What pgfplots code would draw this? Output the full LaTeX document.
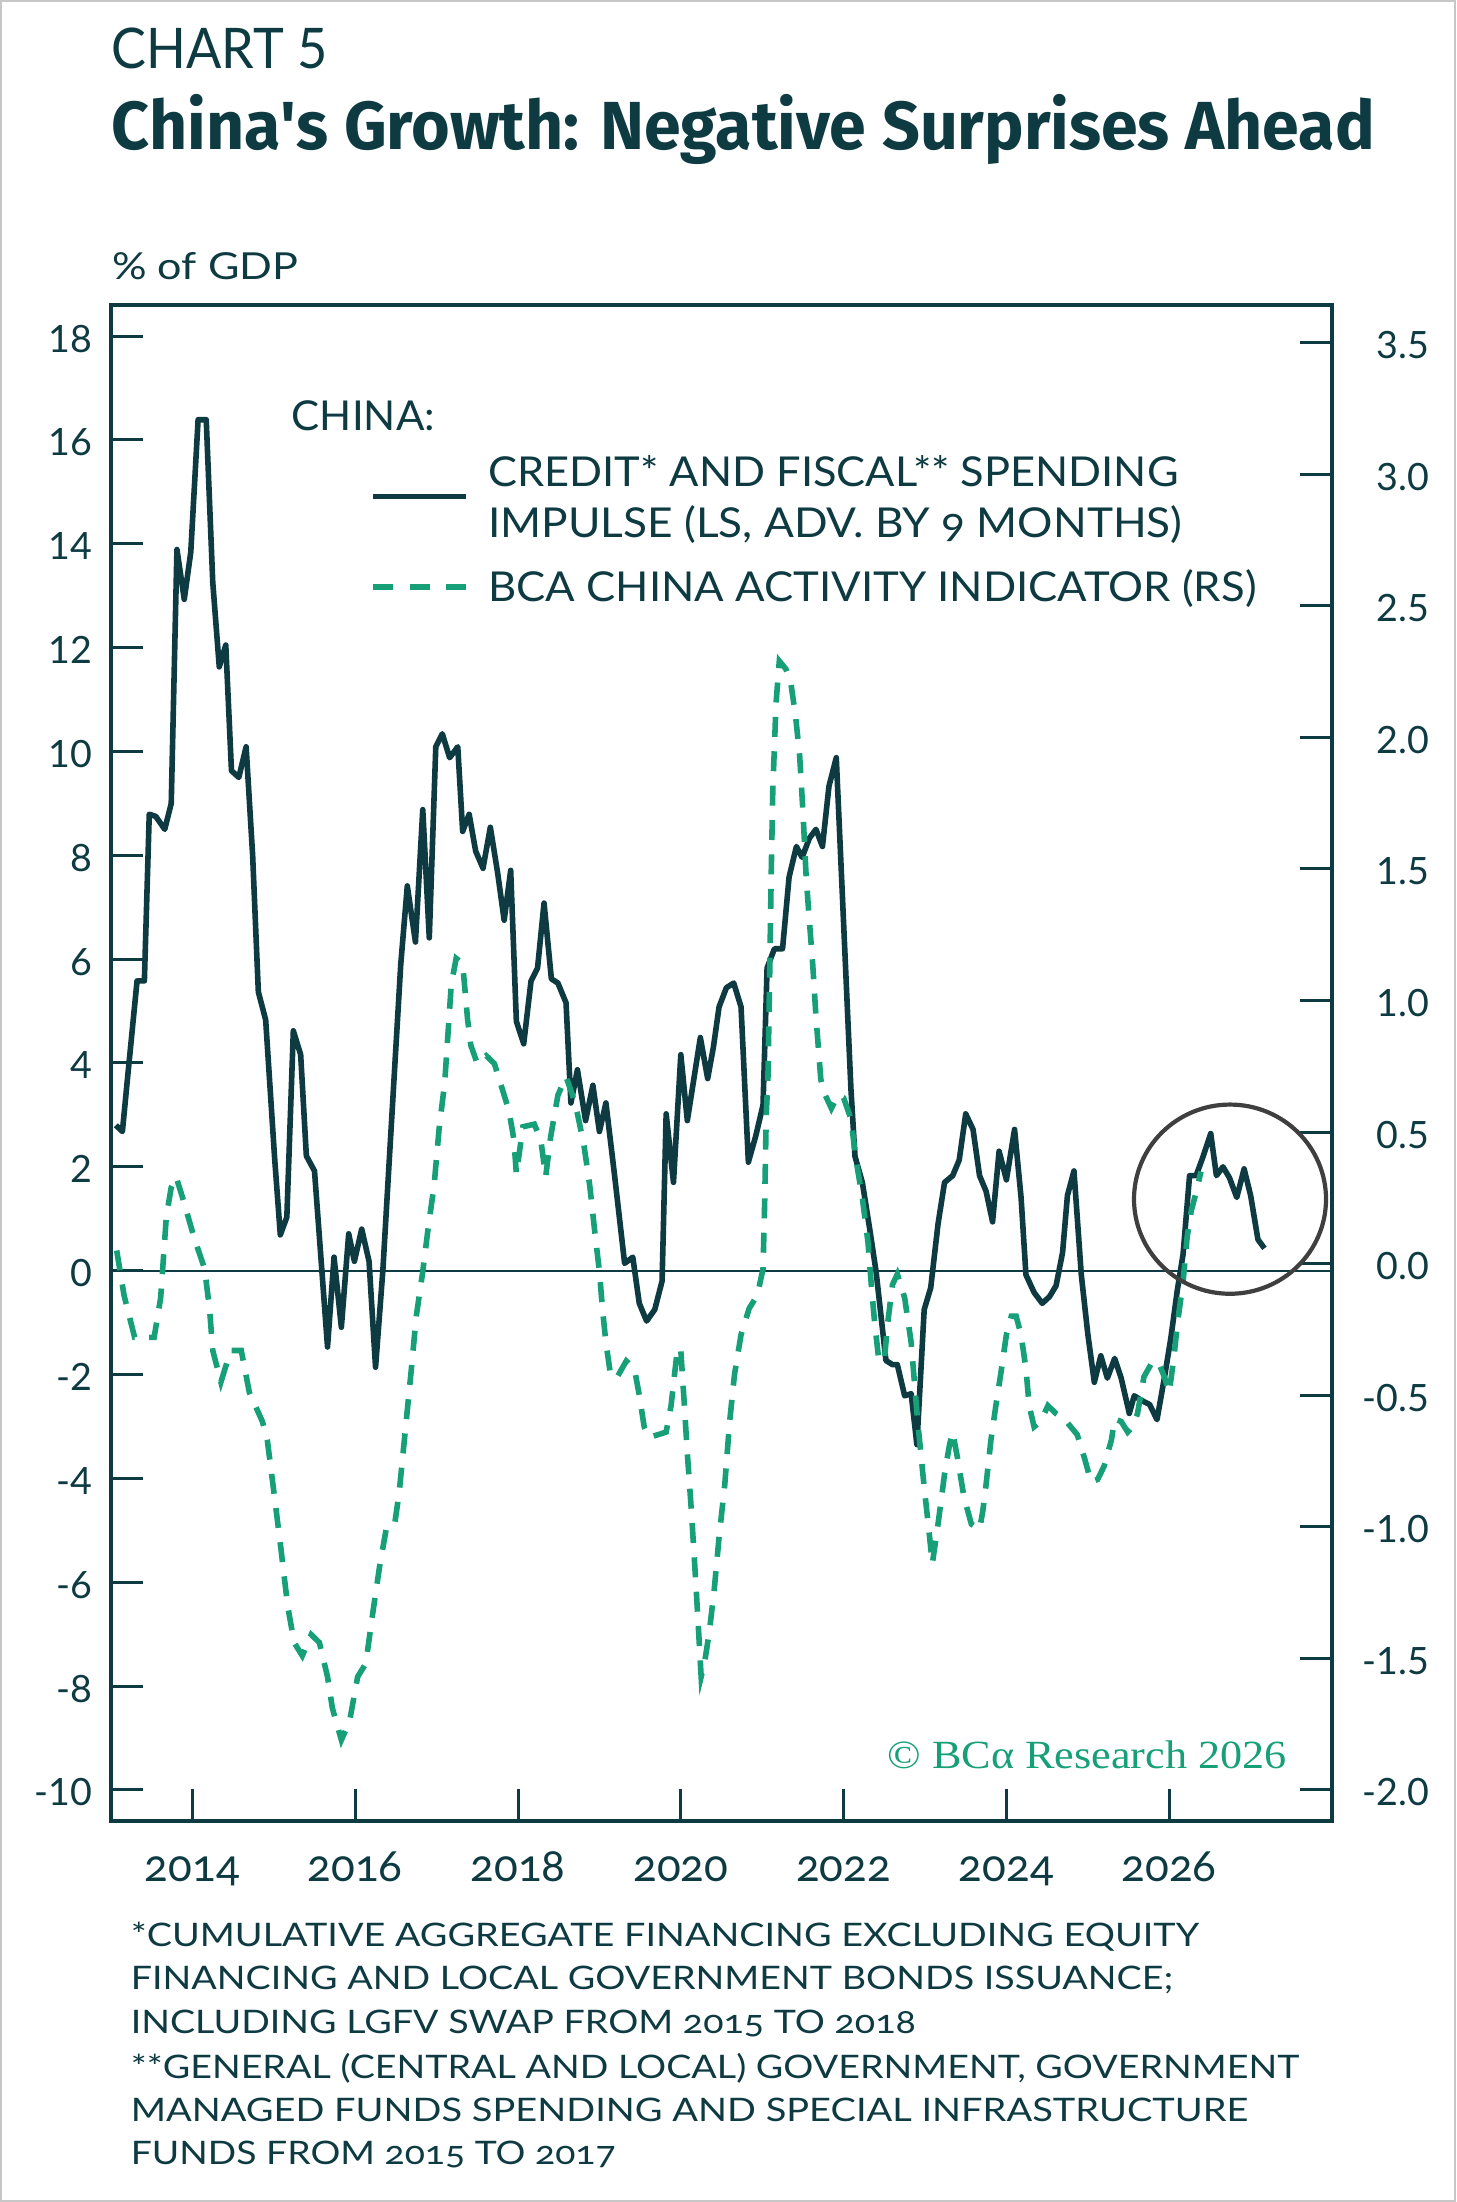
\documentclass[border=0pt]{standalone}
\usepackage{pgfplots}
\pgfplotsset{compat=1.18}
\usepackage{fontspec}
\usepackage{graphicx}
\setmainfont{Lato}
\newfontfamily\osf{Lato}[Numbers=OldStyle]
\newfontfamily\titlefont{Fira Sans}
\newfontfamily\markfont{Liberation Serif}
\definecolor{ink}{HTML}{0E3A42}
\definecolor{bcagreen}{HTML}{17A078}
\definecolor{ring}{HTML}{3F3F3F}
% stretch a line of text to a given width, keeping its height
\newcommand{\fitw}[2]{\resizebox{#1}{\height}{#2}}

\begin{document}
\begin{tikzpicture}[x=1pt,y=1pt]
\useasboundingbox (0,0) rectangle (364,550.5);
\fill[white] (0,0) rectangle (364,550.5);
\draw[black!22, line width=0.5pt] (0.25,0.25) rectangle (363.75,550.25);

% headings
\node[anchor=base west, inner sep=0, text=ink, font=\fontsize{14}{16}\selectfont]
  at (27.75,533.4) {\fitw{54pt}{CHART 5}};
\node[anchor=base west, inner sep=0, text=ink, font=\titlefont\bfseries\fontsize{17}{20}\selectfont]
  at (27.75,513.0) {\fitw{315.75pt}{China\textquotesingle s Growth: Negative Surprises Ahead}};
\node[anchor=base west, inner sep=0, text=ink, font=\fontsize{9.3}{11}\selectfont]
  at (27.85,480.5) {\fitw{46.5pt}{\% of GDP}};

% left scale: credit and fiscal impulse
\begin{axis}[
  at={(27.75pt,95.25pt)}, anchor=south west,
  scale only axis, width=305.25pt, height=379pt,
  xmin=2013, xmax=2028, ymin=-10.6, ymax=18.6,
  axis line style={ink, line width=0.8pt},
  tick align=inside, major tick length=8pt,
  every tick/.style={ink, line width=0.75pt},
  xtick={2014,2016,2018,2020,2022,2024,2026}, xtick pos=left,
  ytick={-10,-8,-6,-4,-2,0,2,4,6,8,10,12,14,16,18}, ytick pos=left,
  /pgf/number format/1000 sep={},
  /pgf/number format/assume math mode=true,
  xticklabel style={font=\osf\fontsize{11}{13}\selectfont, text=ink, anchor=base, inner sep=0pt, yshift=-15.2pt},
  yticklabel style={font=\fontsize{9.4}{11}\selectfont, text=ink, anchor=base east, inner sep=0pt, xshift=-4.5pt, yshift=-4pt},
]
\addplot[ink, line width=0.55pt] coordinates {(2013,0) (2028,0)};
\addplot[ink, line width=1.4pt, line join=round] table {
2013.06 2.80
2013.14 2.68
2013.20 3.66
2013.32 5.58
2013.41 5.58
2013.47 8.79
2013.55 8.75
2013.66 8.50
2013.74 9.00
2013.81 13.89
2013.90 12.93
2013.98 13.84
2014.07 16.39
2014.17 16.39
2014.25 13.26
2014.33 11.63
2014.41 12.05
2014.48 9.63
2014.57 9.50
2014.66 10.09
2014.74 8.00
2014.81 5.37
2014.90 4.83
2015.01 2.17
2015.08 0.69
2015.16 1.03
2015.24 4.62
2015.33 4.16
2015.40 2.21
2015.50 1.92
2015.66 -1.47
2015.74 0.26
2015.83 -1.09
2015.92 0.71
2015.99 0.18
2016.08 0.80
2016.17 0.18
2016.25 -1.86
2016.34 0.01
2016.42 2.17
2016.56 5.91
2016.64 7.41
2016.74 6.33
2016.83 8.88
2016.91 6.41
2016.99 10.09
2017.07 10.34
2017.16 9.88
2017.26 10.09
2017.32 8.46
2017.40 8.79
2017.48 8.08
2017.57 7.75
2017.66 8.54
2017.75 7.66
2017.83 6.75
2017.91 7.71
2017.98 4.80
2018.07 4.37
2018.16 5.58
2018.24 5.83
2018.32 7.08
2018.41 5.62
2018.49 5.54
2018.59 5.16
2018.65 3.23
2018.73 3.87
2018.83 2.89
2018.92 3.57
2019.00 2.68
2019.08 3.23
2019.18 1.92
2019.31 0.14
2019.41 0.26
2019.49 -0.63
2019.58 -0.97
2019.68 -0.75
2019.77 -0.20
2019.82 3.02
2019.91 1.70
2020.00 4.16
2020.08 2.89
2020.24 4.49
2020.33 3.70
2020.40 4.30
2020.47 5.08
2020.56 5.45
2020.65 5.54
2020.74 5.08
2020.83 2.09
2020.92 2.59
2021.01 3.19
2021.06 5.83
2021.15 6.20
2021.25 6.20
2021.33 7.58
2021.42 8.17
2021.49 7.96
2021.58 8.33
2021.66 8.50
2021.74 8.17
2021.82 9.33
2021.91 9.88
2022.09 3.50
2022.14 2.20
2022.23 1.70
2022.32 0.81
2022.40 -0.03
2022.46 -0.88
2022.52 -1.73
2022.60 -1.81
2022.66 -1.81
2022.75 -2.41
2022.83 -2.37
2022.90 -3.35
2022.99 -0.75
2023.07 -0.33
2023.16 0.90
2023.24 1.70
2023.34 1.83
2023.42 2.13
2023.50 3.02
2023.59 2.72
2023.67 1.83
2023.75 1.53
2023.83 0.94
2023.91 2.30
2024.00 1.75
2024.10 2.72
2024.18 1.41
2024.24 -0.08
2024.34 -0.42
2024.44 -0.63
2024.53 -0.50
2024.61 -0.29
2024.69 0.35
2024.75 1.45
2024.83 1.92
2024.92 -0.08
2025.00 -1.22
2025.08 -2.15
2025.16 -1.64
2025.24 -2.07
2025.33 -1.69
2025.41 -2.07
2025.51 -2.75
2025.57 -2.41
2025.65 -2.49
2025.76 -2.58
2025.85 -2.87
2025.94 -2.07
2026.02 -1.30
2026.10 -0.37
2026.17 0.31
2026.25 1.83
2026.33 1.83
2026.41 2.17
2026.51 2.64
2026.58 1.83
2026.66 2.00
2026.74 1.79
2026.83 1.41
2026.92 1.96
2027.00 1.45
2027.09 0.60
2027.17 0.43
};
\end{axis}

% right scale: activity indicator
\begin{axis}[
  at={(27.75pt,95.25pt)}, anchor=south west,
  scale only axis, width=305.25pt, height=379pt,
  xmin=2013, xmax=2028, ymin=-2.118, ymax=3.643,
  axis x line=none, axis y line*=right,
  axis line style={ink, line width=0.8pt},
  tick align=inside, major tick length=8pt,
  every tick/.style={ink, line width=0.75pt},
  ytick={-2,-1.5,-1,-0.5,0,0.5,1,1.5,2,2.5,3,3.5},
  /pgf/number format/.cd, fixed, fixed zerofill, precision=1, assume math mode=true,
  /pgfplots/.cd,
  yticklabel style={font=\fontsize{9.4}{11}\selectfont, text=ink, anchor=base east, inner sep=0pt, xshift=24.5pt, yshift=-4pt},
]
\addplot[bcagreen, line width=1.4pt, dash pattern=on 5pt off 3.6pt] table {
2013.07 0.05
2013.16 -0.12
2013.29 -0.28
2013.39 -0.28
2013.53 -0.28
2013.61 -0.13
2013.68 0.18
2013.74 0.29
2013.80 0.33
2013.88 0.25
2014.02 0.10
2014.15 -0.02
2014.21 -0.17
2014.25 -0.33
2014.35 -0.45
2014.47 -0.33
2014.60 -0.33
2014.70 -0.49
2014.86 -0.60
2014.92 -0.67
2015.01 -0.89
2015.09 -1.09
2015.17 -1.30
2015.25 -1.44
2015.35 -1.49
2015.46 -1.41
2015.56 -1.44
2015.66 -1.57
2015.72 -1.69
2015.83 -1.81
2015.93 -1.74
2016.03 -1.57
2016.13 -1.52
2016.21 -1.34
2016.30 -1.15
2016.38 -1.01
2016.48 -1.00
2016.54 -0.87
2016.62 -0.62
2016.69 -0.40
2016.75 -0.20
2016.83 -0.03
2016.89 0.12
2016.97 0.30
2017.03 0.51
2017.10 0.69
2017.18 1.06
2017.24 1.16
2017.32 1.14
2017.38 0.93
2017.42 0.83
2017.50 0.76
2017.61 0.79
2017.71 0.76
2017.77 0.70
2017.89 0.58
2017.95 0.47
2017.98 0.34
2018.06 0.52
2018.20 0.53
2018.28 0.47
2018.34 0.33
2018.40 0.48
2018.49 0.64
2018.59 0.71
2018.67 0.64
2018.73 0.57
2018.81 0.45
2018.88 0.30
2018.94 0.13
2019.00 -0.03
2019.04 -0.18
2019.08 -0.30
2019.14 -0.43
2019.22 -0.43
2019.33 -0.37
2019.43 -0.40
2019.49 -0.50
2019.55 -0.62
2019.61 -0.66
2019.72 -0.65
2019.82 -0.64
2019.88 -0.54
2019.92 -0.43
2019.96 -0.32
2020.00 -0.33
2020.04 -0.52
2020.08 -0.72
2020.13 -0.94
2020.17 -1.14
2020.21 -1.35
2020.25 -1.57
2020.29 -1.52
2020.35 -1.40
2020.41 -1.24
2020.47 -1.04
2020.54 -0.84
2020.60 -0.60
2020.66 -0.42
2020.74 -0.27
2020.84 -0.17
2020.94 -0.12
2021.01 -0.02
2021.03 0.23
2021.05 0.57
2021.07 0.70
2021.09 1.06
2021.11 1.47
2021.13 1.80
2021.17 2.13
2021.21 2.29
2021.29 2.26
2021.35 2.21
2021.41 2.08
2021.46 1.93
2021.50 1.72
2021.54 1.47
2021.58 1.30
2021.62 1.14
2021.66 0.94
2021.72 0.70
2021.76 0.65
2021.85 0.59
2021.93 0.64
2022.00 0.63
2022.09 0.55
2022.15 0.40
2022.23 0.25
2022.30 0.08
2022.34 -0.08
2022.38 -0.22
2022.43 -0.36
2022.50 -0.37
2022.54 -0.23
2022.60 -0.08
2022.66 -0.04
2022.75 -0.13
2022.83 -0.30
2022.91 -0.60
2022.99 -0.85
2023.05 -1.02
2023.09 -1.14
2023.16 -0.99
2023.24 -0.80
2023.30 -0.69
2023.34 -0.64
2023.40 -0.74
2023.48 -0.89
2023.57 -0.99
2023.67 -1.01
2023.71 -0.94
2023.75 -0.84
2023.81 -0.67
2023.87 -0.54
2023.93 -0.42
2024.00 -0.27
2024.06 -0.20
2024.12 -0.20
2024.18 -0.27
2024.24 -0.40
2024.28 -0.54
2024.34 -0.62
2024.42 -0.60
2024.51 -0.54
2024.61 -0.57
2024.71 -0.59
2024.79 -0.62
2024.87 -0.65
2024.96 -0.74
2025.04 -0.83
2025.12 -0.82
2025.20 -0.77
2025.29 -0.67
2025.33 -0.59
2025.41 -0.60
2025.49 -0.64
2025.55 -0.62
2025.61 -0.57
2025.69 -0.43
2025.78 -0.38
2025.86 -0.37
2025.94 -0.43
2026.00 -0.49
2026.06 -0.35
2026.10 -0.23
2026.17 -0.07
2026.22 0.10
2026.27 0.20
2026.33 0.27
2026.39 0.35
};
% ring around the latest readings
\draw[ring, line width=1.05pt] (axis cs:2026.747,0.245) circle [x radius=24pt, y radius=23.65pt];
\end{axis}

% legend
\node[anchor=base west, inner sep=0, text=ink, font=\fontsize{10.3}{12}\selectfont]
  at (72.75,442.9) {\fitw{35.8pt}{CHINA:}};
\draw[ink, line width=1.4pt] (93.2,426.4) -- (116.5,426.4);
\node[anchor=base west, inner sep=0, text=ink, font=\fontsize{10.3}{12}\selectfont]
  at (121.9,428.8) {\fitw{172.5pt}{CREDIT* AND FISCAL** SPENDING}};
\node[anchor=base west, inner sep=0, text=ink, font=\fontsize{10.3}{12}\selectfont]
  at (121.9,416.0) {\fitw{173.5pt}{IMPULSE (LS, ADV. BY {\osf 9} MONTHS)}};
\draw[bcagreen, line width=1.4pt, dash pattern=on 5pt off 4.2pt] (93.2,403.7) -- (116.5,403.7);
\node[anchor=base west, inner sep=0, text=ink, font=\fontsize{10.3}{12}\selectfont]
  at (121.9,400.1) {\fitw{192pt}{BCA CHINA ACTIVITY INDICATOR (RS)}};

% copyright
\node[anchor=base west, inner sep=0, text=bcagreen, font=\markfont\fontsize{10}{12}\selectfont]
  at (221.7,108.4) {\fitw{99.75pt}{© BCα Research 2026}};

% footnotes
\begin{scope}[every node/.style={anchor=base west, inner sep=0, text=ink, font=\osf\fontsize{8.1}{10}\selectfont}]
\node at (32.5,63.83) {\fitw{267pt}{*CUMULATIVE AGGREGATE FINANCING EXCLUDING EQUITY}};
\node at (32.5,53.00) {\fitw{260.5pt}{FINANCING AND LOCAL GOVERNMENT BONDS ISSUANCE;}};
\node at (32.5,42.18) {\fitw{196.2pt}{INCLUDING LGFV SWAP FROM 2015 TO 2018}};
\node at (32.5,30.93) {\fitw{292pt}{**GENERAL (CENTRAL AND LOCAL) GOVERNMENT, GOVERNMENT}};
\node at (32.5,20.08) {\fitw{279.25pt}{MANAGED FUNDS SPENDING AND SPECIAL INFRASTRUCTURE}};
\node at (32.5,9.25) {\fitw{121.2pt}{FUNDS FROM 2015 TO 2017}};
\end{scope}
\end{tikzpicture}
\end{document}
